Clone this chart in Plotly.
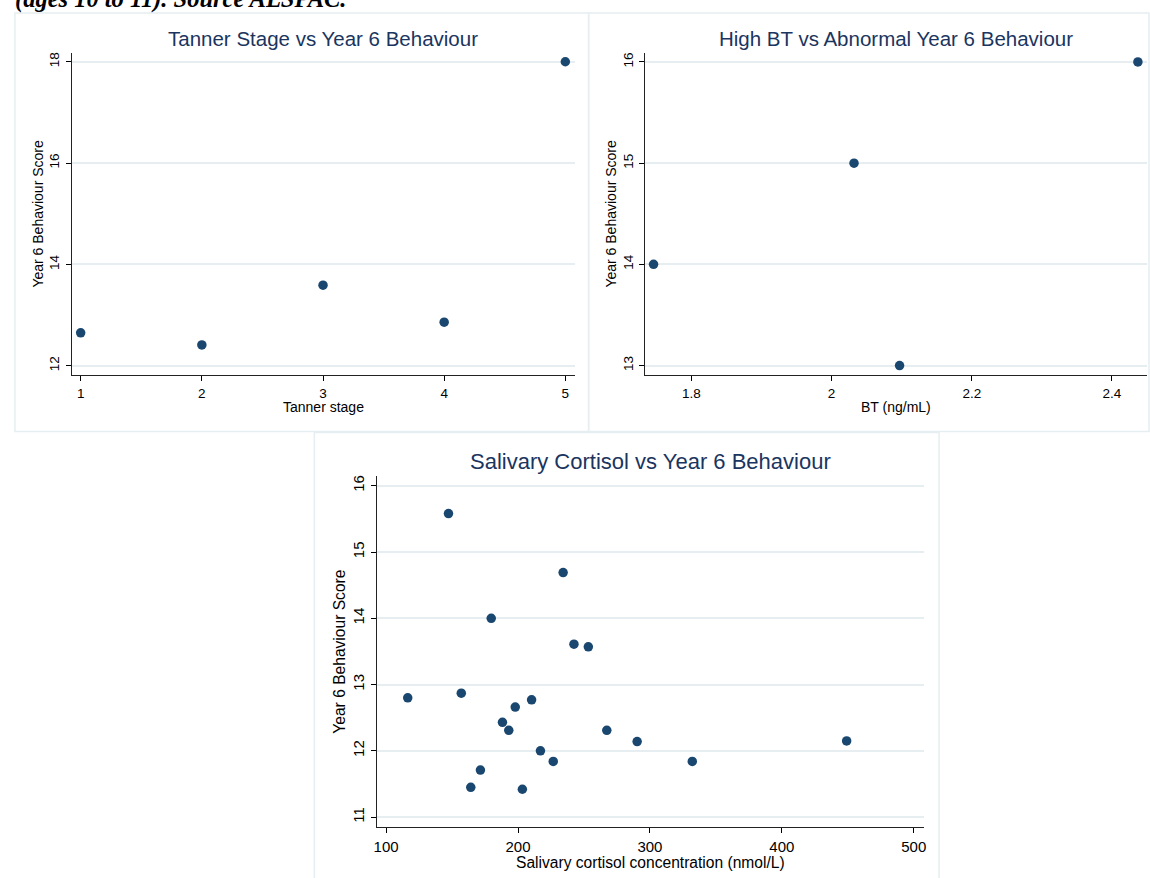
import plotly.graph_objects as go

W, H = 1150, 878

# Tanner stage vs behaviour score
tanner_stage = [1, 2, 3, 4, 5]
tanner_score = [12.65, 12.41, 13.59, 12.86, 18.0]

# Bioavailable testosterone vs abnormal behaviour score
bt_level = [1.746, 2.032, 2.097, 2.437]
bt_score = [14.0, 15.0, 13.0, 16.0]

# Salivary cortisol vs behaviour score
cortisol = [147.3, 234.2, 179.7, 242.4, 253.3, 116.4, 157.0, 210.3, 197.9, 188.2,
            193.0, 267.3, 290.3, 449.1, 217.0, 226.7, 332.1, 171.5, 164.2, 203.3]
cortisol_score = [15.58, 14.69, 14.00, 13.61, 13.57, 12.80, 12.87, 12.77, 12.66, 12.43,
                  12.31, 12.31, 12.14, 12.15, 12.00, 11.84, 11.84, 11.71, 11.45, 11.42]

# Tick values / labels
p1_xticks = [1, 2, 3, 4, 5]
p1_yticks = [12, 14, 16, 18]
p2_xticks = [1.8, 2.0, 2.2, 2.4]
p2_xlabels = ["1.8", "2", "2.2", "2.4"]
p2_yticks = [13, 14, 15, 16]
p3_xticks = [100, 200, 300, 400, 500]
p3_yticks = [11, 12, 13, 14, 15, 16]

titles = ["Tanner Stage vs Year 6 Behaviour",
          "High BT vs Abnormal Year 6 Behaviour",
          "Salivary Cortisol vs Year 6 Behaviour"]
xtitles = ["Tanner stage", "BT (ng/mL)", "Salivary cortisol concentration (nmol/L)"]
ytitle = "Year 6 Behaviour Score"
header = "(ages 10 to 11). Source ALSPAC."

NAVY = "#1a476f"
TITLE_C = "#1a3560"
GRID = "#e6eef1"
BORDER = "#e6eef1"
FONT = "Liberation Sans, Arial, sans-serif"


def px(x):
    return x / W


def py(y):
    return 1 - y / H


# plot areas in pixels: left, right, top, bottom
areas = [(69.2, 574.9, 51.7, 374.3),
         (645.3, 1150.0, 51.7, 374.3),
         (375.5, 925.5, 475.7, 826.7)]

# per-panel text sizes: title, axis title, tick labels
title_size = [20.5, 20.5, 22]
label_size = [14.0, 14.0, 15.6]
tick_size = [13.5, 13.5, 15.0]

fig = go.Figure()
series = [(tanner_stage, tanner_score), (bt_level, bt_score), (cortisol, cortisol_score)]
for i, (xs, ys) in enumerate(series):
    sfx = "" if i == 0 else str(i + 1)
    fig.add_trace(go.Scatter(x=xs, y=ys, mode="markers", xaxis="x" + sfx, yaxis="y" + sfx,
                             marker=dict(color=NAVY, size=9.5, line=dict(width=0)),
                             showlegend=False, cliponaxis=False))

xranges = [[0.927, 5.079], [1.7337, 2.45], [92.76, 507.5]]
yranges = [[11.82, 18.18], [12.908, 16.092], [10.854, 16.145]]
xt = [(p1_xticks, [str(v) for v in p1_xticks]), (p2_xticks, p2_xlabels),
      (p3_xticks, [str(v) for v in p3_xticks])]
yt = [p1_yticks, p2_yticks, p3_yticks]

layout = dict(width=W, height=H, margin=dict(l=0, r=0, t=0, b=0),
              paper_bgcolor="white", plot_bgcolor="white",
              font=dict(family=FONT, size=13, color="black"))

for i in range(3):
    l, r, t, b = areas[i]
    sfx = "" if i == 0 else str(i + 1)
    tickfont = dict(family=FONT, size=tick_size[i], color="black")
    layout["xaxis" + sfx] = dict(
        domain=[px(l), px(r)], range=xranges[i], anchor="y" + sfx,
        tickvals=xt[i][0], ticktext=xt[i][1], ticks="outside", ticklen=5,
        tickcolor="black", showline=True, linecolor="#222222", linewidth=1,
        showgrid=False, zeroline=False, tickfont=tickfont, ticklabelstandoff=1)
    layout["yaxis" + sfx] = dict(
        domain=[py(b), py(t)], range=yranges[i], anchor="x" + sfx,
        tickvals=yt[i], ticks="outside", ticklen=5, tickangle=-90,
        tickcolor="black", showline=True, linecolor="#222222", linewidth=1,
        showgrid=True, gridcolor=GRID, gridwidth=1.5, zeroline=False,
        tickfont=tickfont, ticklabelstandoff=1)

fig.update_layout(**layout)

# panel frames
frames = [(12, 588.7, 12, 431), (588.7, 1152, 12, 431), (313, 941, 432, 880)]
for (x0, x1, y0, y1) in frames:
    fig.add_shape(type="rect", xref="paper", yref="paper",
                  x0=px(x0), x1=px(x1), y0=py(y1), y1=py(y0),
                  line=dict(color=BORDER, width=1.5), layer="below")

# titles and axis titles
title_y = [38, 38, 461]
xtitle_y = [406, 406, 862]
ytitle_x = [35, 611, 338]
for i in range(3):
    l, r, t, b = areas[i]
    cx = (l + r) / 2
    fig.add_annotation(text=titles[i], xref="paper", yref="paper", x=px(cx), y=py(title_y[i]),
                       showarrow=False, xanchor="center", yanchor="middle",
                       font=dict(family=FONT, size=title_size[i], color=TITLE_C))
    fig.add_annotation(text=xtitles[i], xref="paper", yref="paper", x=px(cx), y=py(xtitle_y[i]),
                       showarrow=False, xanchor="center", yanchor="middle",
                       font=dict(family=FONT, size=label_size[i], color="black"))
    fig.add_annotation(text=ytitle, xref="paper", yref="paper", x=px(ytitle_x[i]),
                       y=py((t + b) / 2), textangle=-90,
                       showarrow=False, xanchor="center", yanchor="middle",
                       font=dict(family=FONT, size=label_size[i], color="black"))

fig.add_annotation(text="<b><i>" + header + "</i></b>", xref="paper", yref="paper",
                   x=px(10), y=py(-2.5), showarrow=False, xanchor="left", yanchor="middle",
                   font=dict(family="Liberation Serif, Times New Roman, serif", size=24.5,
                             color="black"))

fig.write_html("out.html")
